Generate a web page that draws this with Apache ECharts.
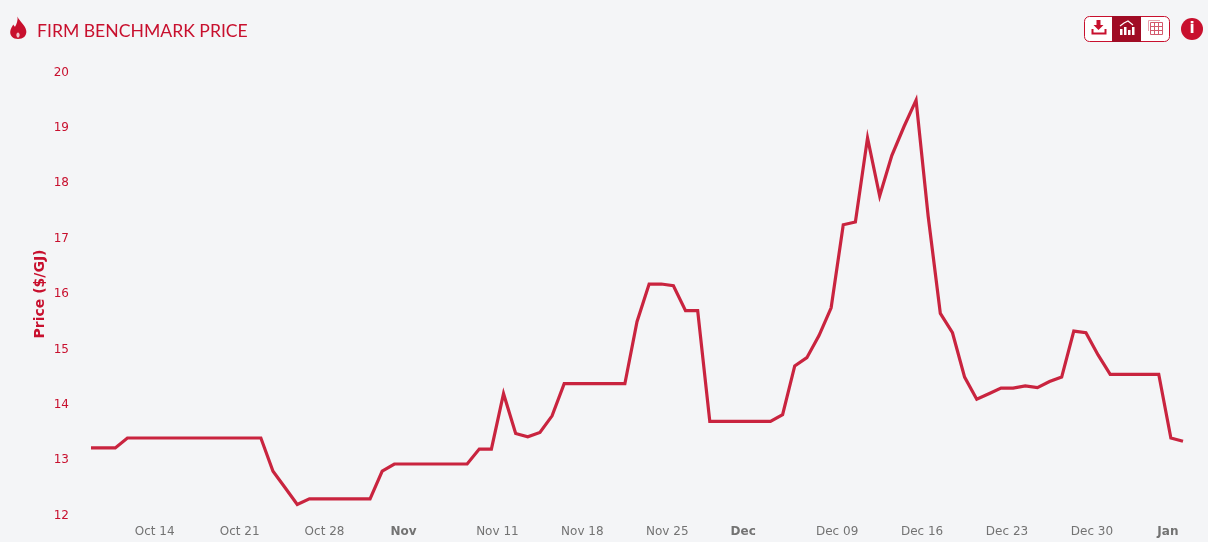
<!DOCTYPE html>
<html><head><meta charset="utf-8">
<style>html,body{margin:0;padding:0;background:#f4f5f7}#c{width:1208px;height:542px}</style>
<script src="https://cdn.jsdelivr.net/npm/echarts@6/dist/echarts.min.js"></script>
</head><body><div id="c"></div>
<script>
const titleText = 'FIRM BENCHMARK PRICE';
const yAxisName = 'Price ($/GJ)';
const dates = [
 'Oct 9','Oct 10','Oct 11','Oct 12','Oct 13','Oct 14','Oct 15','Oct 16','Oct 17','Oct 18','Oct 19','Oct 20','Oct 21','Oct 22','Oct 23','Oct 24','Oct 25','Oct 26','Oct 27','Oct 28','Oct 29','Oct 30','Oct 31',
 'Nov 1','Nov 2','Nov 3','Nov 4','Nov 5','Nov 6','Nov 7','Nov 8','Nov 9','Nov 10','Nov 11','Nov 12','Nov 13','Nov 14','Nov 15','Nov 16','Nov 17','Nov 18','Nov 19','Nov 20','Nov 21','Nov 22','Nov 23','Nov 24','Nov 25','Nov 26','Nov 27','Nov 28','Nov 29','Nov 30',
 'Dec 1','Dec 2','Dec 3','Dec 4','Dec 5','Dec 6','Dec 7','Dec 8','Dec 09','Dec 10','Dec 11','Dec 12','Dec 13','Dec 14','Dec 15','Dec 16','Dec 17','Dec 18','Dec 19','Dec 20','Dec 21','Dec 22','Dec 23','Dec 24','Dec 25','Dec 26','Dec 27','Dec 28','Dec 29','Dec 30','Dec 31',
 'Jan 1','Jan 2','Jan 3','Jan 4','Jan 5','Jan 6','Jan 7'];
const prices = [
 13.22,13.22,13.22,13.4,13.4,13.4,13.4,13.4,13.4,13.4,13.4,13.4,13.4,13.4,13.4,12.8,12.5,12.2,12.3,12.3,12.3,12.3,12.3,12.3,
 12.8,12.93,12.93,12.93,12.93,12.93,12.93,12.93,13.2,13.2,14.2,13.48,13.42,13.5,13.8,14.38,14.38,14.38,14.38,14.38,14.38,
 15.5,16.18,16.18,16.15,15.7,15.7,13.7,13.7,13.7,13.7,13.7,13.7,13.82,14.7,14.85,15.25,15.75,17.25,17.3,18.82,17.77,18.5,19.02,19.5,
 17.4,15.65,15.3,14.5,14.1,14.2,14.3,14.3,14.34,14.31,14.42,14.5,15.33,15.3,14.9,14.55,14.55,14.55,14.55,14.55,13.4,13.34];
const tickDates = ['Oct 14','Oct 21','Oct 28','Nov 4','Nov 11','Nov 18','Nov 25','Dec 2','Dec 09','Dec 16','Dec 23','Dec 30','Jan 6'];
const monthTicks = {'Nov 4':'Nov','Dec 2':'Dec','Jan 6':'Jan'};
const lateTicks = ['Nov 11','Nov 18','Nov 25','Dec 09','Dec 16','Dec 23','Dec 30'];

const RED='#c8102e', DARK='#a00c25';
echarts.graphic.registerShape('flame', echarts.graphic.extendShape({
 buildPath(ctx){
  ctx.moveTo(17.5,16.5);
  ctx.bezierCurveTo(19,21,25.5,25,26.3,31);
  ctx.bezierCurveTo(26.8,36,23,39,18,39);
  ctx.bezierCurveTo(13,39,9.6,35.5,10.3,31);
  ctx.bezierCurveTo(10.7,28.5,12.3,26.5,13.3,24.5);
  ctx.bezierCurveTo(13.8,25.5,14.2,26,15,26.8);
  ctx.bezierCurveTo(16.5,24,18,21,17.5,16.5);
  ctx.closePath();
 }
}));
const chart=echarts.init(document.getElementById('c'),null,{renderer:'canvas'});
const pale='#d3596d';
chart.setOption({
 animation:false,
 backgroundColor:'#f4f5f7',
 grid:{left:91,right:25,top:72.5,bottom:26.5,containLabel:false},
 xAxis:{type:'category',data:dates,boundaryGap:false,
  axisLine:{show:false},axisTick:{show:false},splitLine:{show:false},
  axisLabel:{interval:(i,v)=>tickDates.includes(v),hideOverlap:false,margin:10,
   fontFamily:'DejaVu Sans',fontSize:12,color:'#737373',
   formatter:v=>monthTicks[v]?`{b|${monthTicks[v]}}`:lateTicks.includes(v)?`{l|${v}}`:`{e|${v}}`,
   rich:{
    b:{fontFamily:'DejaVu Sans',fontSize:12,fontWeight:'bold',color:'#737373',padding:[0,6,0,0]},
    l:{fontFamily:'DejaVu Sans',fontSize:12,color:'#737373',padding:[0,0,0,12]},
    e:{fontFamily:'DejaVu Sans',fontSize:12,color:'#737373',padding:[0,0,0,6]}
   }}},
 yAxis:{type:'value',min:12,max:20,interval:1,
  name:yAxisName,nameLocation:'middle',nameRotate:90,nameGap:44,nameMoveOverlap:false,
  nameTextStyle:{fontFamily:'DejaVu Sans',fontSize:14,fontWeight:'bold',color:RED},
  axisLine:{show:false},axisTick:{show:false},splitLine:{show:false},
  axisLabel:{fontFamily:'DejaVu Sans',fontSize:12,color:RED,margin:22,padding:[3,0,0,0]}},
 series:[{type:'line',data:prices,symbol:'none',smooth:false,clip:false,
  lineStyle:{color:'#c9243f',width:3.2,join:'miter'}}],
 graphic:[
  {type:'flame',style:{fill:RED}},
  {type:'ellipse',shape:{cx:18,cy:35,rx:1.6,ry:2.6},style:{fill:'#f0c4cc'}},
  {type:'text',left:37,top:22,style:{text:titleText,font:'17.6px Lato',fill:RED}},
  {type:'rect',shape:{x:1084.5,y:16.5,width:85,height:25,r:5},style:{fill:'#fff',stroke:RED,lineWidth:1}},
  {type:'rect',shape:{x:1112,y:16,width:29,height:26},style:{fill:DARK}},
  {type:'polygon',shape:{points:[[1096.5,20],[1100.5,20],[1100.5,25],[1103.5,25],[1098.5,30],[1093.5,25],[1096.5,25]]},style:{fill:RED}},
  {type:'polygon',shape:{points:[[1091.5,29],[1093.5,29],[1093.5,32.5],[1104.5,32.5],[1104.5,29],[1106.5,29],[1106.5,34.5],[1091.5,34.5]]},style:{fill:RED}},
  {type:'rect',shape:{x:1120,y:29,width:2.5,height:6},style:{fill:'#fff'}},
  {type:'rect',shape:{x:1124,y:27,width:2.5,height:8},style:{fill:'#fff'}},
  {type:'rect',shape:{x:1128,y:30,width:2.5,height:5},style:{fill:'#fff'}},
  {type:'rect',shape:{x:1132,y:27,width:2.5,height:8},style:{fill:'#fff'}},
  {type:'polyline',shape:{points:[[1120,26],[1124,23],[1128,21],[1133,25]]},style:{stroke:'#fff',fill:null,lineWidth:1.2}},
  {type:'polyline',shape:{points:[[1148.5,31],[1148.5,20.5],[1160,20.5]]},style:{stroke:'#e8a0ac',fill:null,lineWidth:1}},
  {type:'rect',shape:{x:1150.5,y:22.5,width:12,height:12},style:{fill:'none',stroke:pale,lineWidth:1}},
  {type:'polyline',shape:{points:[[1150.5,26.5],[1162.5,26.5]]},style:{stroke:pale,fill:null,lineWidth:1}},
  {type:'polyline',shape:{points:[[1150.5,30.5],[1162.5,30.5]]},style:{stroke:pale,fill:null,lineWidth:1}},
  {type:'polyline',shape:{points:[[1154.5,22.5],[1154.5,34.5]]},style:{stroke:pale,fill:null,lineWidth:1}},
  {type:'polyline',shape:{points:[[1158.5,22.5],[1158.5,34.5]]},style:{stroke:pale,fill:null,lineWidth:1}},
  {type:'circle',shape:{cx:1192,cy:29,r:11},style:{fill:RED}},
  {type:'text',x:1192,y:29.5,style:{text:'i',font:'bold 15px "DejaVu Sans"',fill:'#fff',align:'center',verticalAlign:'middle'}}
 ]
});
</script></body></html>
